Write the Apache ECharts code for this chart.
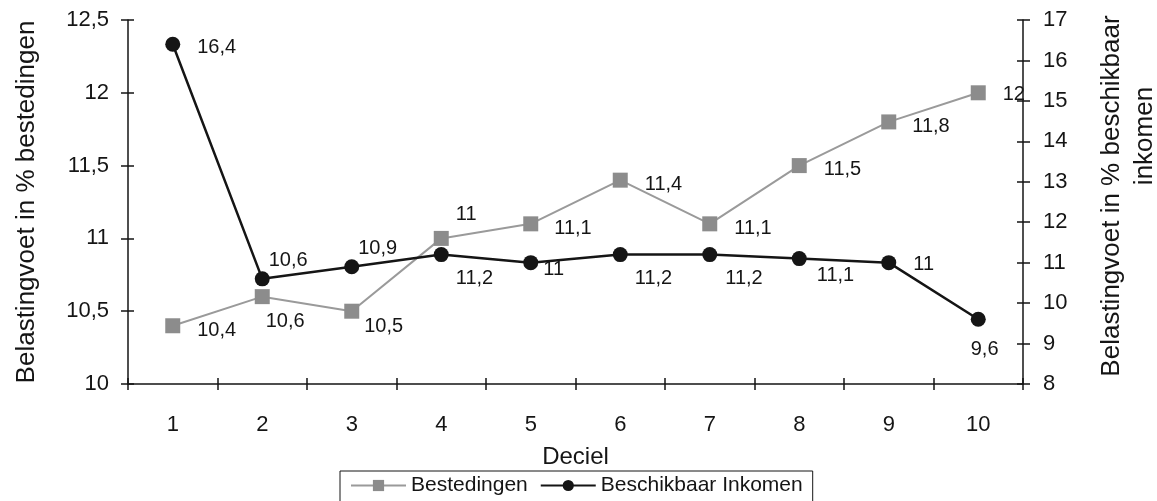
<!DOCTYPE html>
<html>
<head>
<meta charset="utf-8">
<script src="https://cdn.jsdelivr.net/npm/echarts@6/dist/echarts.min.js"></script>
<style>
  html, body { margin: 0; padding: 0; background: #fff; }
  #chart { width: 1157px; height: 501px; }
</style>
</head>
<body>
<div id="chart"></div>
<script>
// Deciles on the horizontal axis
const deciles = ['1', '2', '3', '4', '5', '6', '7', '8', '9', '10'];

// Tax rate as % of spending (left axis)
const bestedingen = [10.4, 10.6, 10.5, 11, 11.1, 11.4, 11.1, 11.5, 11.8, 12];

// Tax rate as % of disposable income (right axis)
const beschikbaarInkomen = [16.4, 10.6, 10.9, 11.2, 11, 11.2, 11.2, 11.1, 11, 9.6];

// Axis ranges
const leftAxisRange = { min: 10, max: 12.5, interval: 0.5 };
const rightAxisRange = { min: 8, max: 17, interval: 1 };

// Label placement (pixel offsets from the right edge of each marker)
const bestOffsets = [[17, 5], [-4, 25], [5, 15], [7, -24], [16, 5], [17, 4], [17, 5], [17, 4], [16, 5], [17, 2]];
const inkOffsets = [[17, 3], [-1, -18], [-1, -18], [7, 24], [5, 7], [7, 24], [8, 24], [10, 17], [17, 2], [-15, 30]];

const FONT = "'Liberation Sans', Arial, Helvetica, sans-serif";
const INK = '#151515';
const comma = v => String(v).replace('.', ',');

const chart = echarts.init(document.getElementById('chart'), null, { renderer: 'canvas' });

const axisLineStyle = { color: INK, width: 1.5 };

const option = {
  backgroundColor: '#ffffff',
  animation: false,
  textStyle: { fontFamily: FONT, color: INK },
  grid: { left: 128, right: 134, top: 20, bottom: 117, containLabel: false, outerBoundsMode: 'none' },
  legend: {
    left: 340,
    top: 471,
    orient: 'horizontal',
    itemWidth: 55,
    itemHeight: 14,
    itemGap: 12,
    padding: [4, 10, 10, 10],
    borderColor: INK,
    borderWidth: 1,
    textStyle: { fontFamily: FONT, fontSize: 21, color: INK },
    data: ['Bestedingen', 'Beschikbaar Inkomen']
  },
  xAxis: [
    {
      type: 'category',
      data: deciles,
      boundaryGap: true,
      name: 'Deciel',
      nameLocation: 'middle',
      nameGap: 61,
      nameTextStyle: { fontFamily: FONT, fontSize: 24, color: INK },
      axisLine: { lineStyle: axisLineStyle },
      axisTick: { show: true, length: 6, lineStyle: axisLineStyle },
      axisLabel: { margin: 30, fontFamily: FONT, fontSize: 22, color: INK },
      splitLine: { show: false }
    },
    {
      // inner half of the crossing ticks
      type: 'category',
      data: deciles,
      boundaryGap: true,
      position: 'bottom',
      axisLine: { show: false },
      axisTick: { show: true, inside: true, length: 6, lineStyle: axisLineStyle },
      axisLabel: { show: false },
      splitLine: { show: false }
    }
  ],
  yAxis: [
    {
      type: 'value',
      position: 'left',
      min: leftAxisRange.min, max: leftAxisRange.max, interval: leftAxisRange.interval,
      name: 'Belastingvoet in % bestedingen',
      nameLocation: 'middle',
      nameRotate: 90,
      nameGap: 88,
      nameTextStyle: { fontFamily: FONT, fontSize: 26, color: INK },
      axisLine: { show: true, lineStyle: axisLineStyle },
      axisTick: { show: true, length: 7, lineStyle: axisLineStyle },
      axisLabel: { margin: 19, fontFamily: FONT, fontSize: 22, color: INK, formatter: comma },
      splitLine: { show: false }
    },
    {
      type: 'value',
      position: 'right',
      min: rightAxisRange.min, max: rightAxisRange.max, interval: rightAxisRange.interval,
      name: 'Belastingvoet in % beschikbaar\n{b|inkomen}',
      nameLocation: 'middle',
      nameRotate: 90,
      nameGap: 72,
      nameTextStyle: {
        fontFamily: FONT, fontSize: 26, lineHeight: 33, color: INK, align: 'center',
        padding: [0, 0, 0, 12],
        rich: {
          b: { fontFamily: FONT, fontSize: 26, lineHeight: 33, color: INK, padding: [0, 0, 0, 120] }
        }
      },
      axisLine: { show: true, lineStyle: axisLineStyle },
      axisTick: { show: true, length: 7, lineStyle: axisLineStyle },
      axisLabel: { margin: 20, fontFamily: FONT, fontSize: 22, color: INK, formatter: comma },
      splitLine: { show: false }
    },
    {
      type: 'value',
      position: 'left',
      min: leftAxisRange.min, max: leftAxisRange.max, interval: leftAxisRange.interval,
      axisLine: { show: false },
      axisTick: { show: true, inside: true, length: 6, lineStyle: axisLineStyle },
      axisLabel: { show: false },
      splitLine: { show: false }
    },
    {
      type: 'value',
      position: 'right',
      min: rightAxisRange.min, max: rightAxisRange.max, interval: rightAxisRange.interval,
      axisLine: { show: false },
      axisTick: { show: true, inside: true, length: 6, lineStyle: axisLineStyle },
      axisLabel: { show: false },
      splitLine: { show: false }
    }
  ],
  series: [
    {
      name: 'Bestedingen',
      type: 'line',
      xAxisIndex: 0,
      yAxisIndex: 0,
      symbol: 'rect',
      symbolSize: 15,
      showAllSymbol: true,
      lineStyle: { color: '#9a9a9a', width: 2 },
      itemStyle: { color: '#8c8c8c', borderWidth: 0 },
      label: {
        show: true,
        position: 'right',
        distance: 0,
        fontFamily: FONT,
        fontSize: 20,
        color: INK,
        formatter: p => comma(p.value)
      },
      data: bestedingen.map((v, i) => ({ value: v, label: { offset: bestOffsets[i] } })),
      z: 3
    },
    {
      name: 'Beschikbaar Inkomen',
      type: 'line',
      xAxisIndex: 0,
      yAxisIndex: 1,
      symbol: 'circle',
      symbolSize: 15,
      showAllSymbol: true,
      lineStyle: { color: INK, width: 2.5 },
      itemStyle: { color: INK, borderWidth: 0 },
      label: {
        show: true,
        position: 'right',
        distance: 0,
        fontFamily: FONT,
        fontSize: 20,
        color: INK,
        formatter: p => comma(p.value)
      },
      data: beschikbaarInkomen.map((v, i) => ({ value: v, label: { offset: inkOffsets[i] } })),
      z: 4
    }
  ]
};

chart.setOption(option);
</script>
</body>
</html>
